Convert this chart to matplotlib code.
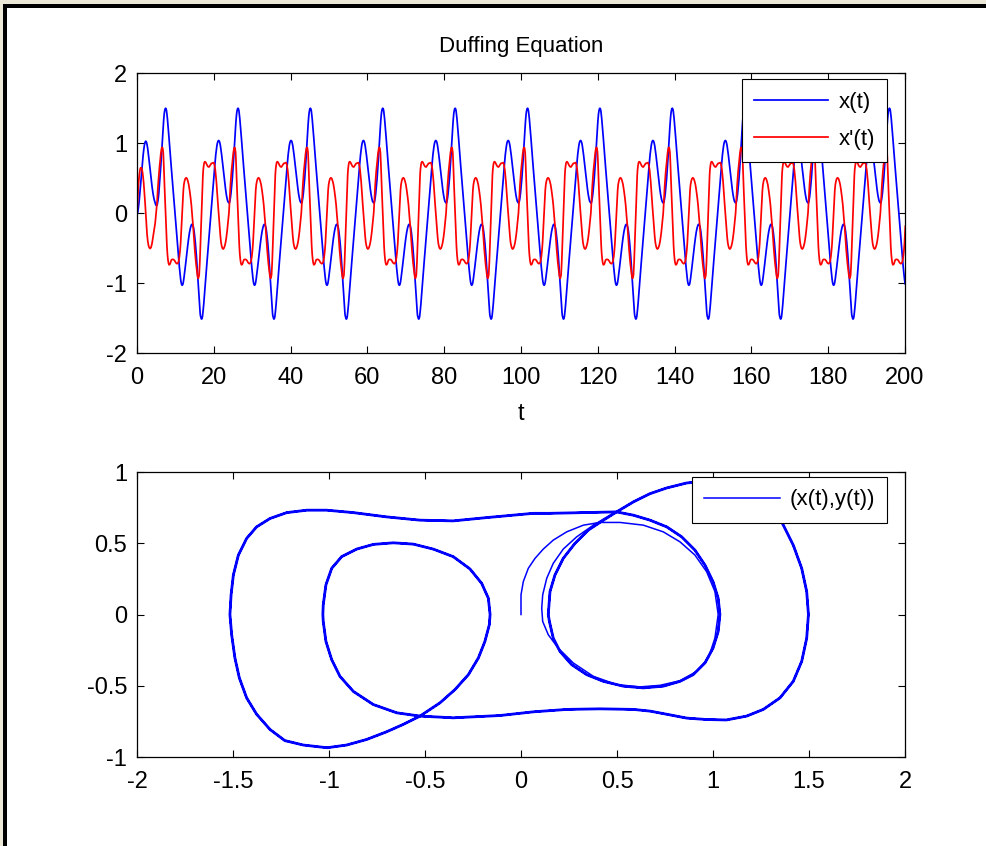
import numpy as np
import matplotlib
matplotlib.use('Agg')
import matplotlib.pyplot as plt
from matplotlib.patches import Rectangle

plt.rcParams['font.family'] = ['Liberation Sans', 'DejaVu Sans']
plt.rcParams['axes.unicode_minus'] = False

t_trans = [0.00, 0.12, 0.20, 0.28, 0.36, 0.46, 0.56, 0.68, 0.82, 0.95, 1.11, 1.29, 1.45, 1.60,
           1.76, 1.92, 2.09, 2.28, 2.48, 2.62, 2.80, 3.00, 3.21, 3.42, 3.66, 3.92, 4.19, 4.46,
           4.74, 4.90, 5.05, 5.21, 5.32, 5.43, 5.56, 5.69, 5.81, 5.92, 5.98, 6.09, 6.20, 6.30,
           6.41, 6.52, 6.68, 6.84, 6.95, 7.09, 7.21, 7.33]
x_trans = [0.000, 0.000, 0.012, 0.038, 0.073, 0.116, 0.168, 0.238, 0.325, 0.411, 0.516, 0.637,
           0.741, 0.828, 0.906, 0.967, 1.010, 1.027, 1.010, 0.976, 0.915, 0.828, 0.724, 0.620,
           0.498, 0.377, 0.272, 0.194, 0.142, 0.113, 0.108, 0.113, 0.134, 0.168, 0.220, 0.290,
           0.377, 0.464, 0.498, 0.585, 0.672, 0.759, 0.863, 0.967, 1.106, 1.245, 1.332, 1.418,
           1.462, 1.488]
v_trans = [0.000, 0.138, 0.231, 0.324, 0.394, 0.459, 0.522, 0.580, 0.627, 0.646, 0.646, 0.627,
           0.580, 0.510, 0.417, 0.300, 0.161, 0.000, -0.166, -0.305, -0.399, -0.465, -0.497,
           -0.508, -0.492, -0.434, -0.340, -0.236, -0.142, -0.049, 0.044, 0.138, 0.254, 0.359,
           0.459, 0.545, 0.627, 0.697, 0.720, 0.790, 0.848, 0.888, 0.923, 0.937, 0.930, 0.860,
           0.720, 0.487, 0.324, 0.161]

# one period of the settled orbit, time measured from a big maximum of x
t_first_peak = 7.45
period = 18.85
t_per = [0.00, 0.12, 0.24, 0.34, 0.47, 0.61, 0.74, 0.89, 1.03, 1.17, 1.32, 1.45, 1.58, 1.85,
         2.11, 2.38, 2.63, 2.97, 3.22, 3.39, 3.58, 3.76, 3.91, 4.02, 4.14, 4.26, 4.31, 4.37,
         4.51, 4.62, 4.76, 4.94, 5.13, 5.34, 5.55, 5.78, 6.02, 6.26, 6.50, 6.71, 6.87, 6.98,
         7.17, 7.31, 7.45, 7.60, 7.74, 7.90, 8.02, 8.13, 8.25, 8.37, 8.49, 8.62, 8.74, 8.82,
         8.91, 8.99, 9.07, 9.17, 9.27, 9.36, 9.45, 9.53, 9.62, 9.71, 9.80, 9.92, 10.04, 10.19,
         10.33, 10.53, 10.78, 11.04, 11.31, 11.57, 11.93, 12.05, 12.30, 12.55, 12.67, 12.80,
         12.94, 13.07, 13.22, 13.35, 13.49, 13.65, 13.81, 13.98, 14.13, 14.28, 14.44, 14.60,
         14.78, 14.99, 15.19, 15.41, 15.61, 15.81, 16.02, 16.18, 16.40, 16.49, 16.65, 16.75,
         16.88, 17.02, 17.14, 17.28, 17.38, 17.49, 17.60, 17.70, 17.81, 17.92, 18.08, 18.24,
         18.35, 18.49, 18.61, 18.73]
x_per = [1.497, 1.488, 1.462, 1.418, 1.349, 1.262, 1.175, 1.070, 0.967, 0.863, 0.759, 0.672,
         0.585, 0.411, 0.240, 0.064, -0.110, -0.353, -0.526, -0.647, -0.769, -0.873, -0.943,
         -0.986, -1.016, -1.030, -1.032, -1.030, -1.016, -0.986, -0.934, -0.856, -0.769, -0.665,
         -0.561, -0.457, -0.353, -0.266, -0.205, -0.170, -0.161, -0.165, -0.188, -0.222, -0.274,
         -0.344, -0.422, -0.526, -0.613, -0.700, -0.804, -0.908, -1.010, -1.134, -1.230, -1.307,
         -1.377, -1.429, -1.467, -1.490, -1.507, -1.516, -1.510, -1.498, -1.472, -1.429, -1.377,
         -1.307, -1.220, -1.116, -1.012, -0.873, -0.700, -0.526, -0.353, -0.179, 0.064, 0.151,
         0.325, 0.498, 0.585, 0.672, 0.759, 0.837, 0.906, 0.958, 1.000, 1.027, 1.036, 1.027,
         1.000, 0.958, 0.897, 0.828, 0.741, 0.637, 0.533, 0.429, 0.342, 0.264, 0.203, 0.168,
         0.148, 0.142, 0.151, 0.177, 0.220, 0.281, 0.350, 0.429, 0.498, 0.585, 0.672, 0.759,
         0.863, 0.967, 1.106, 1.245, 1.332, 1.418, 1.462, 1.488]
v_per = [0.000, -0.166, -0.329, -0.469, -0.585, -0.666, -0.713, -0.740, -0.737, -0.727, -0.700,
         -0.678, -0.666, -0.662, -0.666, -0.683, -0.709, -0.725, -0.713, -0.690, -0.632, -0.540,
         -0.434, -0.317, -0.189, -0.049, 0.000, 0.068, 0.208, 0.324, 0.406, 0.459, 0.492, 0.503,
         0.494, 0.459, 0.406, 0.320, 0.219, 0.114, 0.000, -0.072, -0.189, -0.305, -0.422, -0.527,
         -0.620, -0.713, -0.771, -0.823, -0.877, -0.916, -0.935, -0.916, -0.885, -0.807, -0.700,
         -0.585, -0.445, -0.305, -0.142, 0.000, 0.138, 0.278, 0.417, 0.534, 0.615, 0.674, 0.715,
         0.732, 0.732, 0.715, 0.685, 0.662, 0.657, 0.680, 0.710, 0.710, 0.715, 0.720, 0.697,
         0.662, 0.615, 0.545, 0.452, 0.347, 0.231, 0.114, 0.000, -0.119, -0.236, -0.340, -0.422,
         -0.469, -0.503, -0.515, -0.503, -0.469, -0.422, -0.352, -0.259, -0.166, -0.049, 0.000,
         0.161, 0.278, 0.394, 0.499, 0.592, 0.662, 0.720, 0.790, 0.848, 0.888, 0.923, 0.937,
         0.930, 0.860, 0.720, 0.487, 0.324, 0.161]

t_end = 200
top_xticks = [0, 20, 40, 60, 80, 100, 120, 140, 160, 180, 200]
top_yticks = [-2, -1, 0, 1, 2]
bot_xticks = [-2, -1.5, -1, -0.5, 0, 0.5, 1, 1.5, 2]
bot_xlabels = ['-2', '-1.5', '-1', '-0.5', '0', '0.5', '1', '1.5', '2']
bot_yticks = [-1, -0.5, 0, 0.5, 1]
bot_ylabels = ['-1', '-0.5', '0', '0.5', '1']

# full run: transient followed by the repeating orbit
t_all = list(t_trans)
x_all = list(x_trans)
v_all = list(v_trans)
k = 0
while t_first_peak + k * period < t_end:
    for dt, xx, vv in zip(t_per, x_per, v_per):
        tt = t_first_peak + k * period + dt
        if tt <= t_end + 0.5:
            t_all.append(tt)
            x_all.append(xx)
            v_all.append(vv)
    k += 1

fs = 17
fig = plt.figure(figsize=(9.86, 8.46), dpi=100)
W, H = 986.0, 846.0

ax1 = fig.add_axes([137 / W, 1 - 353 / H, 768 / W, 280 / H])
ax1.plot(t_all, x_all, color='#0000ff', lw=1.25, label='x(t)')
ax1.plot(t_all, v_all, color='#ff0000', lw=1.25, label="x'(t)")
ax1.set_xlim(0, 200)
ax1.set_ylim(-2, 2)
ax1.set_xticks(top_xticks)
ax1.set_yticks(top_yticks)
ax1.set_title('Duffing Equation', fontsize=fs - 1, pad=15)
ax1.set_xlabel('t', fontsize=fs, labelpad=10)
leg1 = ax1.legend(loc='upper right', bbox_to_anchor=(0.977, 0.977), fontsize=fs - 1,
                  fancybox=False, framealpha=1, edgecolor='black', borderpad=0.55,
                  labelspacing=0.72, handlelength=3.3, handletextpad=0.5, borderaxespad=0)
leg1.get_frame().set_linewidth(0.8)

ax2 = fig.add_axes([137 / W, 1 - 757 / H, 768 / W, 285 / H])
ax2.plot(x_all, v_all, color='#0000ff', lw=1.1, label='(x(t),y(t))')
ax2.plot(x_per + [x_per[0]], v_per + [v_per[0]], color='#0000ff', lw=2.0)
ax2.set_xlim(-2, 2)
ax2.set_ylim(-1, 1)
ax2.set_xticks(bot_xticks)
ax2.set_xticklabels(bot_xlabels)
ax2.set_yticks(bot_yticks)
ax2.set_yticklabels(bot_ylabels)
leg2 = ax2.legend(loc='upper right', bbox_to_anchor=(0.977, 0.982), fontsize=fs - 1,
                  fancybox=False, framealpha=1, edgecolor='black', borderpad=0.55,
                  handlelength=3.4, handletextpad=0.45, borderaxespad=0)
leg2.get_frame().set_linewidth(0.8)

for ax in (ax1, ax2):
    for sp in ax.spines.values():
        sp.set_linewidth(0.9)
    ax.tick_params(direction='in', top=True, right=True, length=5, width=0.8,
                   labelsize=fs, pad=7)
    ax.tick_params(axis='x', pad=10)

# window frame of the screenshot (top and left edges)
beige = '#ece9d8'
fig.add_artist(Rectangle((0, 1 - 4 / H), 1, 4 / H, transform=fig.transFigure,
                         facecolor=beige, edgecolor='none'))
fig.add_artist(Rectangle((0, 0), 3 / W, 1, transform=fig.transFigure,
                         facecolor=beige, edgecolor='none'))
fig.add_artist(Rectangle((3 / W, 1 - 8 / H), 1, 4 / H, transform=fig.transFigure,
                         facecolor='black', edgecolor='none'))
fig.add_artist(Rectangle((3 / W, 0), 4 / W, 1 - 4 / H, transform=fig.transFigure,
                         facecolor='black', edgecolor='none'))

fig.savefig('out.png', dpi=100)
